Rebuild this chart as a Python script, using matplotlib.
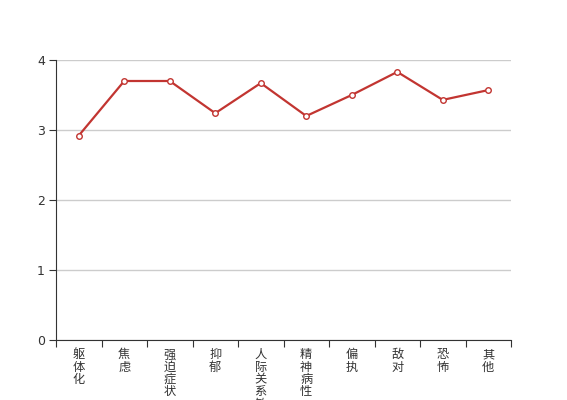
import numpy as np
import matplotlib
matplotlib.use('Agg')
import matplotlib.pyplot as plt

plt.rcParams['font.family'] = ['Noto Sans CJK SC', 'DejaVu Sans']

categories = ['躯体化', '焦虑', '强迫症状', '抑郁', '人际关系敏感', '精神病性', '偏执', '敌对', '恐怖', '其他']
values = [2.92, 3.70, 3.70, 3.24, 3.67, 3.20, 3.50, 3.83, 3.43, 3.57]
yticks = [0, 1, 2, 3, 4]

fig = plt.figure(figsize=(5.67, 4.0), dpi=100)
ax = fig.add_axes([56 / 567, 60 / 400, 455 / 567, 280 / 400])

x = np.arange(len(categories))
ax.plot(x, values, color='#c23531', linewidth=1.6, marker='o', markersize=4,
        markerfacecolor='white', markeredgecolor='#c23531', markeredgewidth=1, zorder=3,
        clip_on=False)

ax.set_xlim(-0.5, len(categories) - 0.5)
ax.set_ylim(0, 4)
ax.set_yticks(yticks)
ax.set_yticklabels([str(v) for v in yticks], fontsize=9, color='#333333',
                   family=['DejaVu Sans'])
ax.yaxis.grid(True, color='#cccccc', linewidth=1)
ax.set_axisbelow(True)

# category boundaries as ticks, labels at band centres
ax.set_xticks(np.arange(len(categories) + 1) - 0.5)
ax.set_xticklabels([])
ax.set_xticks(x, minor=True)
ax.set_xticklabels(['\n'.join(c) for c in categories], minor=True, fontsize=8.8,
                   color='#333333', linespacing=0.93, va='top')
ax.tick_params(axis='x', which='minor', length=0, pad=6)
ax.tick_params(axis='x', which='major', length=5, color='#333333')
ax.tick_params(axis='y', length=5, color='#333333', pad=3)

for s in ['top', 'right']:
    ax.spines[s].set_visible(False)
ax.spines['left'].set_color('#333333')
ax.spines['bottom'].set_color('#333333')

fig.savefig('out.png', dpi=100)
